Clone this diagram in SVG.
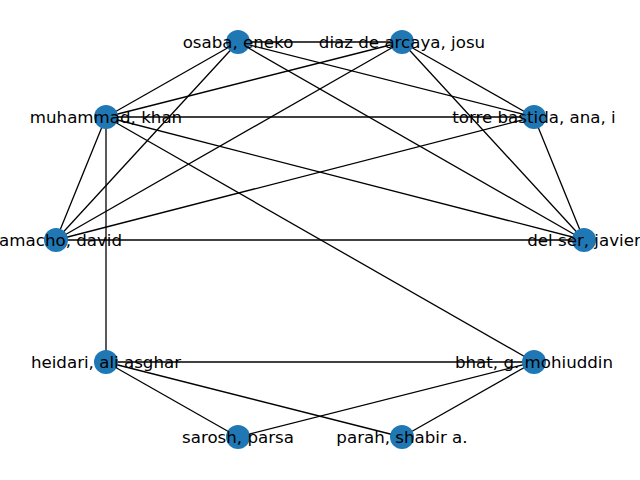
<svg xmlns="http://www.w3.org/2000/svg" width="640" height="480" viewBox="0 0 640 480">
<style>
.e line{stroke:#000;stroke-width:1.3}
.n circle{fill:#1f77b4}
.n text{font-family:"DejaVu Sans",sans-serif;font-size:16.67px;fill:#000;text-anchor:middle;dominant-baseline:central}
</style>
<rect width="640" height="480" fill="#fff"/>
<g id="edges" class="e">
<line x1="238" y1="42" x2="402" y2="42"/>
<line x1="238" y1="42" x2="106" y2="117"/>
<line x1="238" y1="42" x2="56" y2="240"/>
<line x1="238" y1="42" x2="534" y2="117"/>
<line x1="238" y1="42" x2="584" y2="240"/>
<line x1="402" y1="42" x2="106" y2="117"/>
<line x1="402" y1="42" x2="56" y2="240"/>
<line x1="402" y1="42" x2="534" y2="117"/>
<line x1="402" y1="42" x2="584" y2="240"/>
<line x1="106" y1="117" x2="534" y2="117"/>
<line x1="106" y1="117" x2="56" y2="240"/>
<line x1="106" y1="117" x2="584" y2="240"/>
<line x1="106" y1="117" x2="106" y2="362"/>
<line x1="106" y1="117" x2="534" y2="362"/>
<line x1="534" y1="117" x2="56" y2="240"/>
<line x1="534" y1="117" x2="584" y2="240"/>
<line x1="56" y1="240" x2="584" y2="240"/>
<line x1="106" y1="362" x2="534" y2="362"/>
<line x1="106" y1="362" x2="238" y2="437"/>
<line x1="106" y1="362" x2="402" y2="437"/>
<line x1="534" y1="362" x2="238" y2="437"/>
<line x1="534" y1="362" x2="402" y2="437"/>
</g>
<g id="osaba" class="n"><circle cx="238" cy="42" r="12"/><text x="238" y="42">osaba, eneko</text></g>
<g id="diaz" class="n"><circle cx="402" cy="42" r="12"/><text x="402" y="42">diaz de arcaya, josu</text></g>
<g id="muhammad" class="n"><circle cx="106" cy="117" r="12"/><text x="106" y="117">muhammad, khan</text></g>
<g id="torre" class="n"><circle cx="534" cy="117" r="12"/><text x="534" y="117">torre bastida, ana, i</text></g>
<g id="camacho" class="n"><circle cx="56" cy="240" r="12"/><text x="56" y="240">camacho, david</text></g>
<g id="delser" class="n"><circle cx="584" cy="240" r="12"/><text x="584" y="240">del ser, javier</text></g>
<g id="heidari" class="n"><circle cx="106" cy="362" r="12"/><text x="106" y="362">heidari, ali asghar</text></g>
<g id="bhat" class="n"><circle cx="534" cy="362" r="12"/><text x="534" y="362">bhat, g. mohiuddin</text></g>
<g id="sarosh" class="n"><circle cx="238" cy="437" r="12"/><text x="238" y="437">sarosh, parsa</text></g>
<g id="parah" class="n"><circle cx="402" cy="437" r="12"/><text x="402" y="437">parah, shabir a.</text></g>
</svg>
